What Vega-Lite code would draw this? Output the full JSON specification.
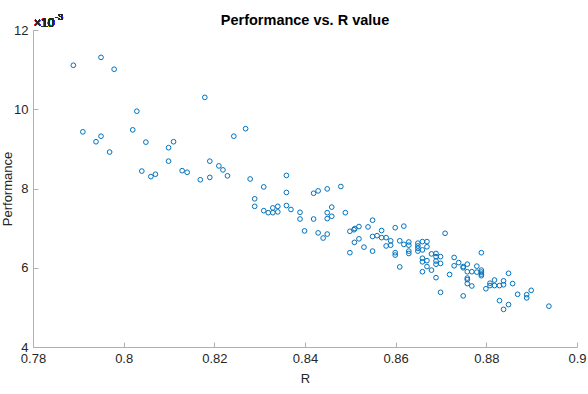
{
  "$schema": "https://vega.github.io/schema/vega-lite/v6.json",
  "width": 544,
  "height": 317,
  "autosize": {"type": "none"},
  "padding": {"left": 33, "top": 30, "right": 11, "bottom": 47},
  "background": "white",
  "config": {
    "view": {"stroke": null},
    "font": "Liberation Sans",
    "axis": {
      "domainColor": "#b0b0b0",
      "tickColor": "#b0b0b0",
      "labelColor": "#262626",
      "titleColor": "#262626",
      "labelFont": "Liberation Sans",
      "titleFont": "Liberation Sans",
      "labelFontSize": 13,
      "titleFontSize": 13,
      "titleFontWeight": "normal",
      "grid": false,
      "tickSize": -5,
      "domainWidth": 1,
      "tickWidth": 1
    }
  },
  "title": {
    "text": "Performance vs. R value",
    "font": "Liberation Sans",
    "fontSize": 14.5,
    "fontWeight": "bold",
    "color": "#000000",
    "anchor": "middle",
    "baseline": "alphabetic",
    "offset": -26
  },
  "data": {
    "values": [
      {"R": 0.7889, "Performance": 0.01111},
      {"R": 0.7950, "Performance": 0.01131},
      {"R": 0.7979, "Performance": 0.01101},
      {"R": 0.8179, "Performance": 0.01030},
      {"R": 0.8029, "Performance": 0.00995},
      {"R": 0.7910, "Performance": 0.00943},
      {"R": 0.8020, "Performance": 0.00948},
      {"R": 0.8269, "Performance": 0.00951},
      {"R": 0.8243, "Performance": 0.00932},
      {"R": 0.7950, "Performance": 0.00932},
      {"R": 0.7939, "Performance": 0.00918},
      {"R": 0.8049, "Performance": 0.00917},
      {"R": 0.8110, "Performance": 0.00918},
      {"R": 0.8099, "Performance": 0.00903},
      {"R": 0.7969, "Performance": 0.00892},
      {"R": 0.8099, "Performance": 0.00869},
      {"R": 0.8190, "Performance": 0.00869},
      {"R": 0.8210, "Performance": 0.00857},
      {"R": 0.8219, "Performance": 0.00847},
      {"R": 0.8229, "Performance": 0.00832},
      {"R": 0.8040, "Performance": 0.00844},
      {"R": 0.8060, "Performance": 0.00830},
      {"R": 0.8070, "Performance": 0.00836},
      {"R": 0.8129, "Performance": 0.00845},
      {"R": 0.8140, "Performance": 0.00841},
      {"R": 0.8169, "Performance": 0.00822},
      {"R": 0.8190, "Performance": 0.00828},
      {"R": 0.8279, "Performance": 0.00824},
      {"R": 0.8359, "Performance": 0.00833},
      {"R": 0.8309, "Performance": 0.00804},
      {"R": 0.8359, "Performance": 0.00790},
      {"R": 0.8289, "Performance": 0.00774},
      {"R": 0.8289, "Performance": 0.00755},
      {"R": 0.8309, "Performance": 0.00744},
      {"R": 0.8319, "Performance": 0.00739},
      {"R": 0.8329, "Performance": 0.00739},
      {"R": 0.8329, "Performance": 0.00751},
      {"R": 0.8340, "Performance": 0.00741},
      {"R": 0.8340, "Performance": 0.00755},
      {"R": 0.8359, "Performance": 0.00757},
      {"R": 0.8369, "Performance": 0.00747},
      {"R": 0.8389, "Performance": 0.00740},
      {"R": 0.8389, "Performance": 0.00723},
      {"R": 0.8399, "Performance": 0.00693},
      {"R": 0.8419, "Performance": 0.00788},
      {"R": 0.8429, "Performance": 0.00794},
      {"R": 0.8449, "Performance": 0.00799},
      {"R": 0.8479, "Performance": 0.00805},
      {"R": 0.8419, "Performance": 0.00723},
      {"R": 0.8429, "Performance": 0.00688},
      {"R": 0.8440, "Performance": 0.00675},
      {"R": 0.8449, "Performance": 0.00685},
      {"R": 0.8449, "Performance": 0.00724},
      {"R": 0.8449, "Performance": 0.00739},
      {"R": 0.8459, "Performance": 0.00730},
      {"R": 0.8459, "Performance": 0.00753},
      {"R": 0.8489, "Performance": 0.00739},
      {"R": 0.8499, "Performance": 0.00692},
      {"R": 0.8508, "Performance": 0.00696},
      {"R": 0.8510, "Performance": 0.00699},
      {"R": 0.8519, "Performance": 0.00704},
      {"R": 0.8539, "Performance": 0.00703},
      {"R": 0.8549, "Performance": 0.00720},
      {"R": 0.8509, "Performance": 0.00664},
      {"R": 0.8519, "Performance": 0.00673},
      {"R": 0.8530, "Performance": 0.00652},
      {"R": 0.8549, "Performance": 0.00679},
      {"R": 0.8559, "Performance": 0.00681},
      {"R": 0.8499, "Performance": 0.00638},
      {"R": 0.8549, "Performance": 0.00642},
      {"R": 0.8569, "Performance": 0.00694},
      {"R": 0.8569, "Performance": 0.00676},
      {"R": 0.8579, "Performance": 0.00676},
      {"R": 0.8579, "Performance": 0.00655},
      {"R": 0.8589, "Performance": 0.00668},
      {"R": 0.8589, "Performance": 0.00657},
      {"R": 0.8599, "Performance": 0.00701},
      {"R": 0.8618, "Performance": 0.00705},
      {"R": 0.8599, "Performance": 0.00638},
      {"R": 0.8599, "Performance": 0.00632},
      {"R": 0.8609, "Performance": 0.00668},
      {"R": 0.8609, "Performance": 0.00602},
      {"R": 0.8618, "Performance": 0.00659},
      {"R": 0.8629, "Performance": 0.00665},
      {"R": 0.8629, "Performance": 0.00657},
      {"R": 0.8629, "Performance": 0.00642},
      {"R": 0.8629, "Performance": 0.00636},
      {"R": 0.8649, "Performance": 0.00662},
      {"R": 0.8649, "Performance": 0.00655},
      {"R": 0.8649, "Performance": 0.00649},
      {"R": 0.8649, "Performance": 0.00642},
      {"R": 0.8659, "Performance": 0.00666},
      {"R": 0.8659, "Performance": 0.00645},
      {"R": 0.8669, "Performance": 0.00666},
      {"R": 0.8669, "Performance": 0.00653},
      {"R": 0.8709, "Performance": 0.00687},
      {"R": 0.8659, "Performance": 0.00624},
      {"R": 0.8659, "Performance": 0.00615},
      {"R": 0.8669, "Performance": 0.00618},
      {"R": 0.8669, "Performance": 0.00603},
      {"R": 0.8659, "Performance": 0.00590},
      {"R": 0.8679, "Performance": 0.00635},
      {"R": 0.8689, "Performance": 0.00636},
      {"R": 0.8689, "Performance": 0.00628},
      {"R": 0.8699, "Performance": 0.00628},
      {"R": 0.8689, "Performance": 0.00617},
      {"R": 0.8689, "Performance": 0.00609},
      {"R": 0.8699, "Performance": 0.00611},
      {"R": 0.8679, "Performance": 0.00594},
      {"R": 0.8689, "Performance": 0.00575},
      {"R": 0.8699, "Performance": 0.00538},
      {"R": 0.8719, "Performance": 0.00583},
      {"R": 0.8729, "Performance": 0.00626},
      {"R": 0.8729, "Performance": 0.00605},
      {"R": 0.8739, "Performance": 0.00613},
      {"R": 0.8749, "Performance": 0.00603},
      {"R": 0.8749, "Performance": 0.00600},
      {"R": 0.8749, "Performance": 0.00529},
      {"R": 0.8758, "Performance": 0.00609},
      {"R": 0.8758, "Performance": 0.00590},
      {"R": 0.8758, "Performance": 0.00574},
      {"R": 0.8758, "Performance": 0.00570},
      {"R": 0.8758, "Performance": 0.00560},
      {"R": 0.8768, "Performance": 0.00590},
      {"R": 0.8768, "Performance": 0.00554},
      {"R": 0.8779, "Performance": 0.00604},
      {"R": 0.8779, "Performance": 0.00589},
      {"R": 0.8789, "Performance": 0.00638},
      {"R": 0.8789, "Performance": 0.00594},
      {"R": 0.8789, "Performance": 0.00589},
      {"R": 0.8789, "Performance": 0.00584},
      {"R": 0.8789, "Performance": 0.00580},
      {"R": 0.8799, "Performance": 0.00547},
      {"R": 0.8808, "Performance": 0.00561},
      {"R": 0.8808, "Performance": 0.00555},
      {"R": 0.8818, "Performance": 0.00555},
      {"R": 0.8818, "Performance": 0.00569},
      {"R": 0.8829, "Performance": 0.00555},
      {"R": 0.8829, "Performance": 0.00517},
      {"R": 0.8838, "Performance": 0.00567},
      {"R": 0.8838, "Performance": 0.00557},
      {"R": 0.8838, "Performance": 0.00495},
      {"R": 0.8849, "Performance": 0.00586},
      {"R": 0.8849, "Performance": 0.00507},
      {"R": 0.8858, "Performance": 0.00560},
      {"R": 0.8869, "Performance": 0.00533},
      {"R": 0.8889, "Performance": 0.00532},
      {"R": 0.8889, "Performance": 0.00524},
      {"R": 0.8899, "Performance": 0.00543},
      {"R": 0.8938, "Performance": 0.00503}
    ]
  },
  "layer": [
    {
      "mark": {"type": "point", "shape": "circle", "filled": false, "color": "#0072BD", "size": 22, "strokeWidth": 1, "opacity": 1},
      "encoding": {
        "x": {
          "field": "R", "type": "quantitative", "title": "R",
          "scale": {"domain": [0.78, 0.9], "nice": false, "zero": false},
          "axis": {"values": [0.78, 0.8, 0.82, 0.84, 0.86, 0.88, 0.9], "format": ".2~f", "labelPadding": 10, "titlePadding": 7, "labelFlush": false}
        },
        "y": {
          "field": "Performance", "type": "quantitative", "title": "Performance",
          "scale": {"domain": [0.004, 0.012], "nice": false, "zero": false},
          "axis": {"values": [0.004, 0.005, 0.006, 0.007, 0.008, 0.009, 0.01, 0.011, 0.012], "labelExpr": "format(datum.value * 1000, 'd')", "labelPadding": 10, "titlePadding": -1}
        }
      }
    },
    {
      "mark": {"type": "text", "text": "×10", "align": "left", "baseline": "alphabetic", "dx": 1, "dy": -3, "fontSize": 12, "font": "Liberation Sans", "color": "#262626"},
      "encoding": {
        "x": {"datum": 0.78, "type": "quantitative"},
        "y": {"datum": 0.012, "type": "quantitative"}
      }
    },
    {
      "mark": {"type": "text", "text": "-3", "align": "left", "baseline": "alphabetic", "dx": 22, "dy": -10, "fontSize": 9, "font": "Liberation Sans", "color": "#262626"},
      "encoding": {
        "x": {"datum": 0.78, "type": "quantitative"},
        "y": {"datum": 0.012, "type": "quantitative"}
      }
    }
  ]
}
